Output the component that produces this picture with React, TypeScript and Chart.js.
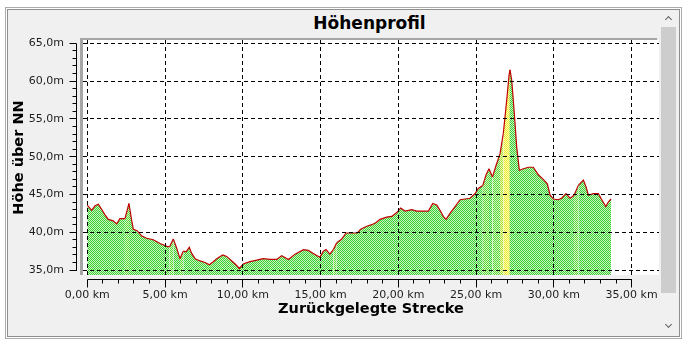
import React, { useEffect, useRef } from "react";
import { Chart, registerables } from "chart.js";

Chart.register(...registerables);

// ---- data ----
const distanceKm = [
  0.0, 0.28, 0.5, 0.71, 0.9, 1.14, 1.35, 1.67, 1.89, 2.1, 2.42, 2.68, 2.85, 2.96,
  3.2, 3.5, 3.82, 4.24, 4.68, 5.15, 5.3, 5.53, 5.75, 5.96, 6.17, 6.35, 6.56, 6.71,
  6.93, 7.25, 7.57, 7.85, 8.1, 8.32, 8.71, 8.96, 9.29, 9.56, 9.78, 10.03, 10.46,
  10.9, 11.3, 11.75, 12.18, 12.5, 12.93, 13.36, 13.9, 14.21, 14.53, 14.86, 14.96,
  15.18, 15.35, 15.6, 15.82, 16.04, 16.36, 16.64, 17.0, 17.36, 17.58, 17.97, 18.29,
  18.57, 18.82, 19.25, 19.58, 19.9, 20.15, 20.43, 20.86, 21.18, 21.6, 21.93, 22.21,
  22.47, 22.68, 22.89, 23.07, 23.32, 23.65, 23.97, 24.29, 24.61, 24.93, 25.14,
  25.43, 25.64, 25.83, 26.05, 26.26, 26.54, 26.75, 26.97, 27.12, 27.18, 27.29,
  27.44, 27.61, 27.78, 28.04, 28.36, 28.68, 29.0, 29.32, 29.58, 29.76, 29.97,
  30.29, 30.5, 30.78, 31.04, 31.3, 31.57, 31.9, 32.07, 32.22, 32.54, 32.86, 33.08,
  33.34, 33.5, 33.68,
];
const elevationM = [
  43.6, 42.9, 43.5, 43.7, 43.1, 42.3, 41.7, 41.5, 41.1, 41.8, 41.8, 43.8, 41.6, 40.4,
  40.2, 39.5, 39.2, 39.0, 38.5, 38.1, 38.1, 39.1, 37.9, 36.5, 37.5, 37.4, 38.0, 37.2,
  36.5, 36.2, 36.0, 35.7, 36.1, 36.5, 37.0, 36.8, 36.2, 35.7, 35.2, 35.8, 36.1,
  36.3, 36.5, 36.4, 36.4, 36.9, 36.4, 37.1, 37.7, 37.6, 37.2, 36.8, 36.7,
  37.5, 37.7, 37.1, 37.7, 38.6, 39.1, 39.9, 39.9, 39.9, 40.4, 40.8, 41.0,
  41.3, 41.7, 42.0, 42.1, 42.6, 43.2, 42.8, 43.0, 42.8, 42.8, 42.8, 43.8,
  43.6, 42.9, 42.1, 41.7, 42.5, 43.4, 44.3, 44.4, 44.5, 45.1, 45.8,
  46.2, 47.6, 48.4, 47.3, 48.7, 50.4, 53.1, 57.5, 60.8, 61.5, 60.1,
  56.2, 51.3, 48.2, 48.4, 48.6, 48.6, 47.6, 47.0, 46.4, 44.9, 44.4,
  44.3, 44.5, 45.1, 44.5, 44.9, 46.2, 46.9, 46.0, 44.9, 45.1, 45.1, 44.3,
  43.4, 44.0, 44.4,
];
const xTicksKm = [0, 5, 10, 15, 20, 25, 30, 35];
const yTicksM = [35, 40, 45, 50, 55, 60, 65];
const minorStepKm = 1;
const minorStepM = 1;
const chartTitle = "Höhenprofil";
const xAxisTitle = "Zurückgelegte Strecke";
const yAxisTitle = "Höhe über NN";

const fmtKm = (v: number) => v.toFixed(2).replace(".", ",") + " km";
const fmtM = (v: number) => v.toFixed(1).replace(".", ",") + "m";

const FONT = "'DejaVu Sans', Verdana, sans-serif";

function Chevron({ x, y, up }: { x: number; y: number; up: boolean }) {
  return (
    <div
      style={{
        position: "absolute",
        left: x - 3,
        top: y - (up ? 1 : 4),
        width: 5,
        height: 5,
        borderTop: "1.5px solid #606060",
        borderLeft: "1.5px solid #606060",
        transform: up ? "rotate(45deg)" : "rotate(225deg)",
        boxSizing: "border-box",
      }}
    />
  );
}

export default function App() {
  const ref = useRef<HTMLCanvasElement>(null);

  useEffect(() => {
    const canvas = ref.current!;
    const c2d = canvas.getContext("2d")!;
    const checker = (a: string, b: string) => {
      const cv = document.createElement("canvas");
      cv.width = 2;
      cv.height = 2;
      const g = cv.getContext("2d")!;
      g.fillStyle = b;
      g.fillRect(0, 0, 2, 2);
      g.fillStyle = a;
      g.fillRect(0, 0, 1, 1);
      g.fillRect(1, 1, 1, 1);
      return c2d.createPattern(cv, "repeat")!;
    };
    const fills = [
      checker("#3ccd38", "#c6f6bc"),
      checker("#5cd43c", "#d2f7c0"),
      checker("#a4dc3a", "#eaf8b0"),
      checker("#ecec3c", "#ffffa8"),
    ];
    const slopeFill = (s: number) =>
      s >= 16 ? fills[3] : s >= 9 ? fills[2] : s >= 4 ? fills[1] : fills[0];

    const al = (p: number) => Math.round(p - 0.5) + 0.5;

    const framePlugin = {
      id: "frame",
      beforeDraw(chart: any) {
        const { ctx, chartArea: a } = chart;
        ctx.save();
        ctx.fillStyle = "#ffffff";
        ctx.fillRect(a.left, a.top, a.right - a.left, a.bottom - a.top);
        ctx.fillStyle = "#a6a6a6";
        ctx.fillRect(a.left - 3, a.top - 2, a.right - a.left + 1, 2);
        ctx.fillRect(a.left - 3, a.top - 2, 3, a.bottom - a.top + 2);
        ctx.restore();
      },
      afterDraw(chart: any) {
        const { ctx, chartArea: a } = chart;
        const xs = chart.scales.x;
        const ys = chart.scales.y;
        ctx.save();
        ctx.strokeStyle = "#000";
        ctx.lineWidth = 1;
        ctx.setLineDash([]);
        ctx.beginPath();
        // x axis
        const axY = al(a.bottom + 4.5);
        const xFirst = xTicksKm[0];
        const xLast = xTicksKm[xTicksKm.length - 1];
        ctx.moveTo(al(xs.getPixelForValue(xFirst)), axY);
        ctx.lineTo(al(xs.getPixelForValue(xLast)) + 0.5, axY);
        for (let v = xFirst; v <= xLast + 1e-9; v += minorStepKm) {
          const px = al(xs.getPixelForValue(v));
          const len = xTicksKm.includes(v) ? 8 : 4;
          ctx.moveTo(px, axY);
          ctx.lineTo(px, axY + len);
        }
        // y axis
        const axX = al(a.left - 6.5);
        const yFirst = yTicksM[0];
        const yLast = yTicksM[yTicksM.length - 1];
        ctx.moveTo(axX, al(ys.getPixelForValue(yFirst)) + 0.5);
        ctx.lineTo(axX, al(ys.getPixelForValue(yLast)));
        for (let v = yFirst; v <= yLast + 1e-9; v += minorStepM) {
          const py = al(ys.getPixelForValue(v));
          const len = yTicksM.includes(v) ? 7 : 4;
          ctx.moveTo(axX, py);
          ctx.lineTo(axX - len, py);
        }
        ctx.stroke();
        ctx.restore();
      },
    };

    const points = distanceKm.map((x, i) => ({ x, y: elevationM[i] }));

    const chart = new Chart(canvas, {
      type: "line",
      data: {
        datasets: [
          {
            data: points,
            borderColor: "#c00000",
            borderWidth: 1.2,
            backgroundColor: fills[0],
            fill: "start",
            pointRadius: 0,
            tension: 0,
            segment: {
              backgroundColor: (ctx: any) => {
                const dy = ctx.p1.parsed.y - ctx.p0.parsed.y;
                const dx = ctx.p1.parsed.x - ctx.p0.parsed.x;
                return slopeFill(dx > 0 ? dy / dx : 0);
              },
            },
          },
        ],
      },
      options: {
        animation: false,
        responsive: false,
        events: [],
        layout: { padding: { left: 0, top: 40, right: 30, bottom: 0 } },
        plugins: {
          legend: { display: false },
          tooltip: { enabled: false },
          title: { display: false },
        },
        scales: {
          x: {
            type: "linear",
            min: -0.276,
            max: 36.76,
            afterBuildTicks: (axis: any) => {
              axis.ticks = xTicksKm.map((v) => ({ value: v }));
            },
            afterFit: (s: any) => {
              s.height = 69;
              s.paddingLeft = 0;
              s.paddingRight = 0;
              s.paddingTop = 0;
              s.paddingBottom = 0;
            },
            grid: { color: "#000", lineWidth: 1, drawTicks: false, z: 1 },
            border: { display: false, dash: [4, 3] },
            ticks: {
              callback: (v: any) => fmtKm(Number(v)),
              color: "#1e1e1e",
              font: { family: FONT, size: 11 },
              padding: 14,
              maxRotation: 0,
              autoSkip: false,
            },
            title: {
              display: true,
              text: xAxisTitle,
              color: "#000",
              font: { family: FONT, size: 14.5, weight: "bold" },
              padding: { top: 0, bottom: 26 },
            },
          },
          y: {
            type: "linear",
            min: 34.34,
            max: 65.44,
            afterBuildTicks: (axis: any) => {
              axis.ticks = yTicksM.map((v) => ({ value: v }));
            },
            afterFit: (s: any) => {
              s.width = 83;
              s.paddingLeft = 0;
              s.paddingRight = 0;
              s.paddingTop = 0;
              s.paddingBottom = 0;
            },
            grid: { color: "#000", lineWidth: 1, drawTicks: false, z: 1 },
            border: { display: false, dash: [4, 3] },
            ticks: {
              callback: (v: any) => fmtM(Number(v)),
              color: "#1e1e1e",
              font: { family: FONT, size: 11 },
              padding: 19,
              autoSkip: false,
            },
            title: {
              display: true,
              text: yAxisTitle,
              color: "#000",
              font: { family: FONT, size: 14.5, weight: "bold" },
              padding: { top: 11, bottom: 0 },
            },
          },
        },
      },
      plugins: [framePlugin],
    } as any);

    return () => chart.destroy();
  }, []);

  return (
    <div
      style={{
        position: "fixed",
        left: 0,
        top: 0,
        width: 689,
        height: 344,
        background: "#ffffff",
        overflow: "hidden",
      }}
    >
      <div
        style={{
          position: "absolute",
          left: 5,
          top: 7,
          width: 677,
          height: 332,
          border: "1px solid #ababab",
          boxSizing: "border-box",
        }}
      />
      <div
        style={{
          position: "absolute",
          left: 7,
          top: 9,
          width: 673,
          height: 328,
          border: "1px solid #8e8e8e",
          background: "#f0f0f0",
          boxSizing: "border-box",
        }}
      />
      {/* scrollbar */}
      <div
        style={{
          position: "absolute",
          left: 661,
          top: 27,
          width: 15,
          height: 266,
          background: "#cdcdcd",
        }}
      />
      <Chevron x={668.5} y={18} up={true} />
      <Chevron x={668.5} y={326} up={false} />
      <div
        style={{
          position: "absolute",
          left: 82,
          top: 13,
          width: 575,
          textAlign: "center",
          fontFamily: FONT,
          fontWeight: "bold",
          fontSize: 17,
          lineHeight: "20px",
          color: "#000",
        }}
      >
        {chartTitle}
      </div>
      <canvas
        ref={ref}
        width={689}
        height={344}
        style={{ position: "absolute", left: 0, top: 0, width: 689, height: 344 }}
      />
    </div>
  );
}
